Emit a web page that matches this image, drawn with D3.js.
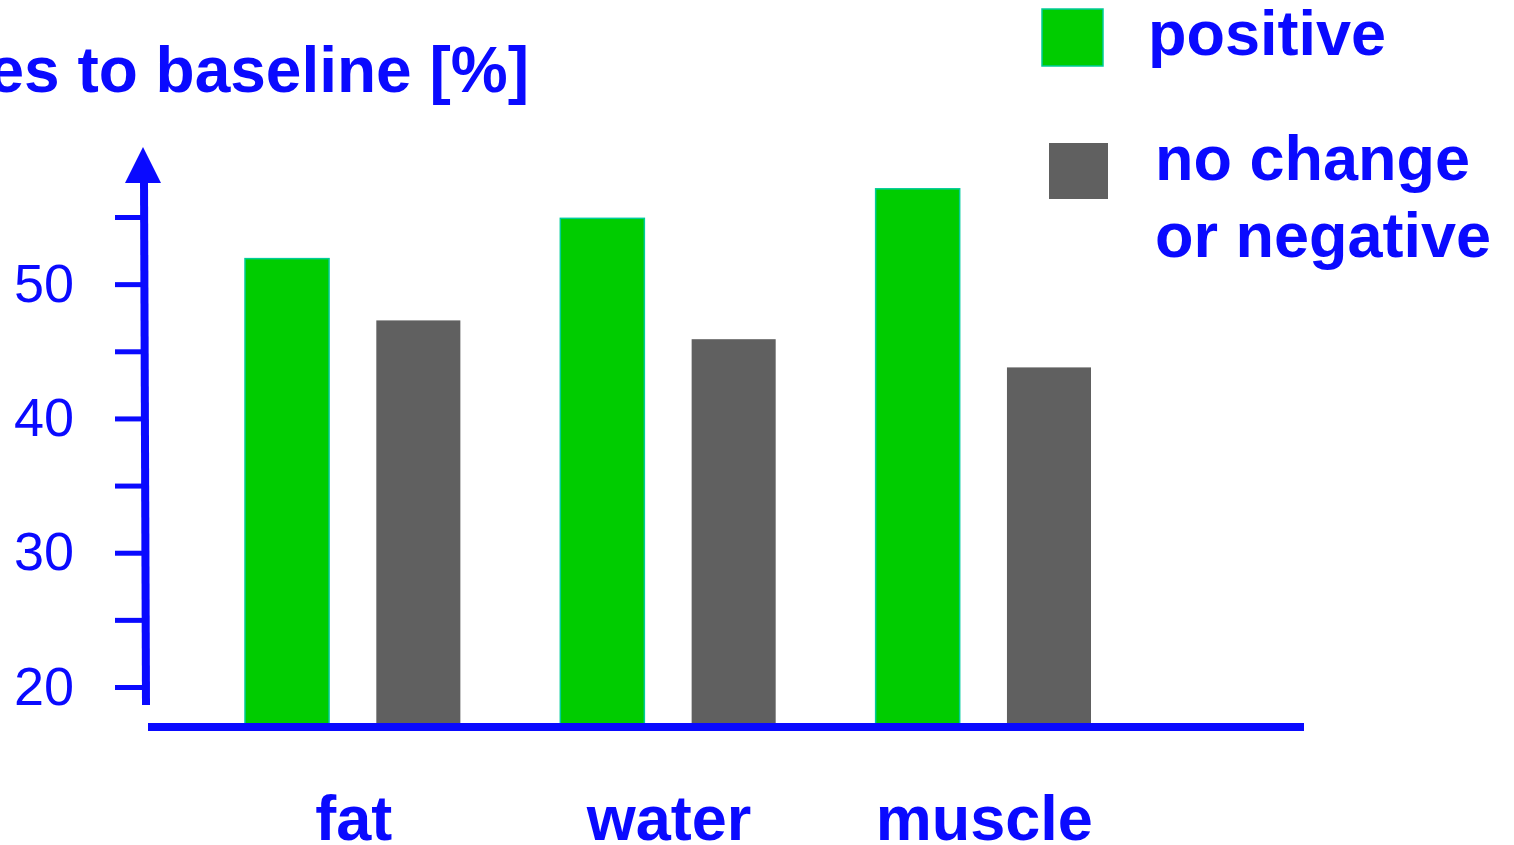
<!DOCTYPE html>
<html>
<head>
<meta charset="utf-8">
<script src="https://cdn.jsdelivr.net/npm/d3@7"></script>
<style>
  html, body { margin: 0; padding: 0; background: #ffffff; overflow: hidden; }
  svg { display: block; }
  text { font-family: "Liberation Sans", Arial, sans-serif; }
</style>
</head>
<body>
<svg id="chart" width="1514" height="845"></svg>
<script>
// Body composition: share of patients per change category
const categories = ["fat", "water", "muscle"];
const seriesKeys = ["positive", "negative"];
const seriesLabels = [["positive"], ["no change", "or negative"]];
const positiveValues = [51.9, 54.9, 57.1];
const noChangeValues = [47.3, 45.9, 43.8];
const yTickValues = [20, 25, 30, 35, 40, 45, 50, 55];
const yLabelValues = [20, 30, 40, 50];
const yTitle = "Changes to baseline [%]";

const BLUE = "#0a0aff";
const GREEN = "#00cc00";
const GREEN_EDGE = "#00cc99";
const GREY = "#606060";

const svg = d3.select("#chart");

const y = d3.scaleLinear().domain([20, 55]).range([687, 217]);
const axisX = 145;        // y-axis line position
const baseY = 727;        // x-axis line position

const x0 = d3.scaleBand().domain(categories).range([245, 1091]).paddingInner(0.317);
const x1 = d3.scaleBand().domain(seriesKeys).range([0, x0.bandwidth()]).paddingInner(0.36);

const rows = categories.map((c, i) => ({
  category: c,
  values: [
    { key: "positive", value: positiveValues[i] },
    { key: "negative", value: noChangeValues[i] }
  ]
}));

// Bars
const groups = svg.append("g").selectAll("g")
  .data(rows).join("g")
  .attr("transform", d => `translate(${x0(d.category)},0)`);

groups.selectAll("rect")
  .data(d => d.values).join("rect")
  .attr("x", d => x1(d.key))
  .attr("y", d => y(d.value))
  .attr("width", x1.bandwidth())
  .attr("height", d => baseY - y(d.value))
  .attr("fill", d => d.key === "positive" ? GREEN : GREY)
  .attr("stroke", d => d.key === "positive" ? GREEN_EDGE : "none")
  .attr("stroke-width", 1.5);

// Y axis ticks and labels
const yAxis = d3.axisLeft(y)
  .tickValues(yTickValues)
  .tickSize(30)
  .tickPadding(41)
  .tickFormat(v => yLabelValues.includes(v) ? String(v) : "");

const gy = svg.append("g")
  .attr("transform", `translate(${axisX},0)`)
  .call(yAxis);
gy.select(".domain").remove();
gy.selectAll(".tick line").attr("stroke", BLUE).attr("stroke-width", 5);
gy.selectAll(".tick text")
  .attr("fill", BLUE)
  .attr("font-size", 54)
  .attr("font-family", "'Liberation Sans', Arial, sans-serif");

// Y axis line with arrow head
svg.append("line")
  .attr("x1", axisX - 1).attr("y1", 180)
  .attr("x2", axisX + 1).attr("y2", 705)
  .attr("stroke", BLUE).attr("stroke-width", 8);
svg.append("path")
  .attr("d", `M${axisX - 20},183 L${axisX - 2},147 L${axisX + 16},183 Z`)
  .attr("fill", BLUE);

// X axis line
svg.append("line")
  .attr("x1", 148).attr("y1", baseY)
  .attr("x2", 1304).attr("y2", baseY)
  .attr("stroke", BLUE).attr("stroke-width", 8);

// Category labels
svg.append("g").selectAll("text")
  .data(categories).join("text")
  .attr("x", d => x0(d) + x0.bandwidth() / 2 + 1)
  .attr("y", 840)
  .attr("text-anchor", "middle")
  .attr("fill", BLUE)
  .attr("font-size", 63)
  .attr("font-weight", "bold")
  .text(d => d);

// Y axis title
svg.append("text")
  .attr("x", 529)
  .attr("y", 92)
  .attr("text-anchor", "end")
  .attr("fill", BLUE)
  .attr("font-size", 64)
  .attr("font-weight", "bold")
  .text(yTitle);

// Legend
const legend = svg.append("g");
const legendItems = [
  { key: "positive", lines: seriesLabels[0], box: [1042, 9, 61, 57], textX: 1148, textY: 55 },
  { key: "negative", lines: seriesLabels[1], box: [1049, 143, 59, 56], textX: 1155, textY: 180 }
];
legendItems.forEach(item => {
  legend.append("rect")
    .attr("x", item.box[0]).attr("y", item.box[1])
    .attr("width", item.box[2]).attr("height", item.box[3])
    .attr("fill", item.key === "positive" ? GREEN : GREY)
    .attr("stroke", item.key === "positive" ? GREEN_EDGE : "none")
    .attr("stroke-width", 1.5);
  const t = legend.append("text")
    .attr("x", item.textX).attr("y", item.textY)
    .attr("fill", BLUE)
    .attr("font-size", 63)
    .attr("font-weight", "bold");
  item.lines.forEach((line, i) => {
    t.append("tspan")
      .attr("x", item.textX)
      .attr("dy", i === 0 ? 0 : 77)
      .text(line);
  });
});
</script>
</body>
</html>
